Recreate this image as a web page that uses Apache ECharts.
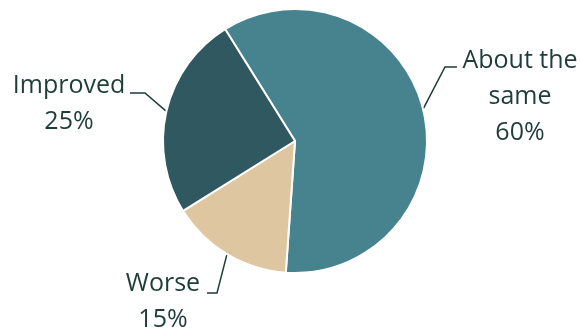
<!DOCTYPE html>
<html>
<head>
<meta charset="utf-8">
<script src="https://cdn.jsdelivr.net/npm/echarts@6/dist/echarts.min.js"></script>
<style>
  html, body { margin: 0; padding: 0; background: #ffffff; }
  #chart { width: 582px; height: 331px; }
</style>
</head>
<body>
<div id="chart"></div>
<script>
// Share of respondents by outcome
const categories = ['About the same', 'Worse', 'Improved'];
const shares = [60, 15, 25];
const labelTexts = ['About the\nsame', 'Worse', 'Improved'];
const sliceColors = ['#46838F', '#DEC6A1', '#2F5860'];

// Where each outside label sits and how its leader line bends
const labelPlacement = {
  'About the same': { x: 520, y: 97, elbow: [445, 67], end: [457, 67] },
  'Worse':          { x: 163, y: 302, elbow: [217, 293], end: [207, 293] },
  'Improved':       { x: 69,  y: 104, elbow: [145, 93], end: [130, 93] }
};

const textColor = '#1E3D38';

const chart = echarts.init(document.getElementById('chart'), null, { renderer: 'canvas' });

chart.setOption({
  animation: false,
  backgroundColor: '#ffffff',
  series: [{
    type: 'pie',
    center: [295, 141],
    radius: 132,
    startAngle: 122,
    clockwise: true,
    avoidLabelOverlap: false,
    itemStyle: { borderColor: '#ffffff', borderWidth: 2 },
    label: {
      show: true,
      position: 'outside',
      color: textColor,
      fontFamily: 'Open Sans',
      fontSize: 25,
      lineHeight: 36,
      align: 'center',
      formatter: p => labelTexts[p.dataIndex] + '\n' + p.value + '%'
    },
    labelLine: {
      show: true,
      length: 20,
      length2: 10,
      lineStyle: { color: textColor, width: 1.5 }
    },
    labelLayout: params => {
      const spot = labelPlacement[categories[params.dataIndex]];
      const start = params.labelLinePoints ? params.labelLinePoints[0] : spot.elbow;
      return {
        x: spot.x,
        y: spot.y,
        align: 'center',
        verticalAlign: 'middle',
        labelLinePoints: [start, spot.elbow, spot.end]
      };
    },
    data: categories.map((name, i) => ({
      name: name,
      value: shares[i],
      itemStyle: { color: sliceColors[i] }
    }))
  }]
});
</script>
</body>
</html>
